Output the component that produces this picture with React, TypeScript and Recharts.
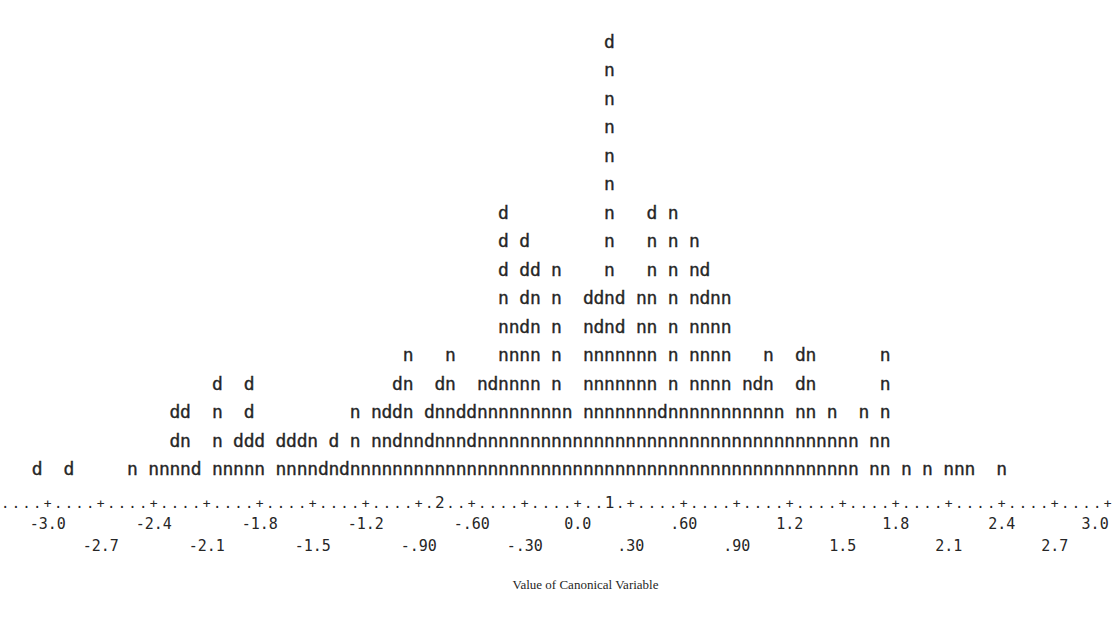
import React from 'react'
import { ScatterChart, Scatter, XAxis, YAxis, Label } from 'recharts'

// one printed row of the histogram = runs of [canonical value of first char, chars]
// d / n are the two groups, one letter per case, bins are 0.06 wide
type Run = [number, string]

const row1: Run[] = [
  [-3.06, 'd'], [-2.88, 'd'], [-2.52, 'n'], [-2.4, 'nnnnd'], [-2.04, 'nnnnn'],
  [-1.68, 'nnnndndnnn' + 'nnnnnnnnnn' + 'nnnnnnnnnn' + 'nnnnnnnnnn' + 'nnnnnnnnnn' + 'nnnnn'],
  [1.68, 'nn'], [1.86, 'n'], [1.98, 'n'], [2.1, 'nnn'], [2.4, 'n'],
]
const row2: Run[] = [
  [-2.28, 'dn'], [-2.04, 'n'], [-1.92, 'ddd'], [-1.68, 'dddn'], [-1.38, 'd'], [-1.26, 'n'],
  [-1.14, 'nndnndnnnd' + 'nnnnnnnnnn' + 'nnnnnnnnnn' + 'nnnnnnnnnn' + 'nnnnnn'],
  [1.68, 'nn'],
]
const row3: Run[] = [
  [-2.28, 'dd'], [-2.04, 'n'], [-1.86, 'd'], [-1.26, 'n'], [-1.14, 'nddn'],
  [-0.84, 'dnnddnnnnnnnnn'], [0.06, 'nnnnnnnd' + 'nnnnnnnnnnn'],
  [1.26, 'nn'], [1.44, 'n'], [1.62, 'n'], [1.74, 'n'],
]
const row4: Run[] = [
  [-2.04, 'd'], [-1.86, 'd'], [-1.02, 'dn'], [-0.78, 'dn'], [-0.54, 'ndnnnn'], [-0.12, 'n'],
  [0.06, 'nnnnnnn'], [0.54, 'n'], [0.66, 'nnnn'], [0.96, 'ndn'], [1.26, 'dn'], [1.74, 'n'],
]
const row5: Run[] = [
  [-0.96, 'n'], [-0.72, 'n'], [-0.42, 'nnnn'], [-0.12, 'n'], [0.06, 'nnnnnnn'], [0.54, 'n'],
  [0.66, 'nnnn'], [1.08, 'n'], [1.26, 'dn'], [1.74, 'n'],
]
const row6: Run[] = [[-0.42, 'nndn'], [-0.12, 'n'], [0.06, 'ndnd'], [0.36, 'nn'], [0.54, 'n'], [0.66, 'nnnn']]
const row7: Run[] = [[-0.42, 'n'], [-0.3, 'dn'], [-0.12, 'n'], [0.06, 'ddnd'], [0.36, 'nn'], [0.54, 'n'], [0.66, 'ndnn']]
const row8: Run[] = [[-0.42, 'd'], [-0.3, 'dd'], [-0.12, 'n'], [0.18, 'n'], [0.42, 'n'], [0.54, 'n'], [0.66, 'nd']]
const row9: Run[] = [[-0.42, 'd'], [-0.3, 'd'], [0.18, 'n'], [0.42, 'n'], [0.54, 'n'], [0.66, 'n']]
const row10: Run[] = [[-0.42, 'd'], [0.18, 'n'], [0.42, 'd'], [0.54, 'n']]
const row11: Run[] = [[0.18, 'n']]
const row12: Run[] = [[0.18, 'n']]
const row13: Run[] = [[0.18, 'n']]
const row14: Run[] = [[0.18, 'n']]
const row15: Run[] = [[0.18, 'n']]
const row16: Run[] = [[0.18, 'd']]

const rows = [row1, row2, row3, row4, row5, row6, row7, row8, row9, row10, row11, row12, row13, row14, row15, row16]

const tickValues = [-3.0, -2.7, -2.4, -2.1, -1.8, -1.5, -1.2, -0.9, -0.6, -0.3, 0, 0.3, 0.6, 0.9, 1.2, 1.5, 1.8, 2.1, 2.4, 2.7, 3.0]
const tickLabels = ['-3.0', '-2.7', '-2.4', '-2.1', '-1.8', '-1.5', '-1.2', '-.90', '-.60', '-.30', '0.0', '.30', '.60', '.90', '1.2', '1.5', '1.8', '2.1', '2.4', '2.7', '3.0']
// group means printed inside the axis line
const groupMeans = [{ value: -0.78, mark: '2' }, { value: 0.18, mark: '1' }]

const BIN = 0.06
const X_MIN = -3.27
const X_MAX = 3.03
const PLOT_W = 1113
const PITCH = PLOT_W / ((X_MAX - X_MIN) / BIN)
const MONO = '"DejaVu Sans Mono", "Liberation Mono", monospace'
const INK = '#262626'

const points = rows.flatMap((runs, r) =>
  runs.flatMap(([at, chars]) =>
    chars.split('').map((ch, i) => ({ x: +(at + i * BIN).toFixed(2), y: r + 1, ch }))
  )
)

function Letter(props: any) {
  const { cx, cy, payload } = props
  return (
    <text
      x={cx}
      y={cy + 5}
      textAnchor="middle"
      fontFamily={MONO}
      fontSize={18}
      fill={INK}
      stroke={INK}
      strokeWidth={0.35}
    >
      {payload.ch}
    </text>
  )
}

function AxisTick(props: any) {
  const { x, y, payload } = props
  const v = payload.value
  const i = tickValues.findIndex((t) => Math.abs(t - v) < 1e-6)
  const last = i === tickValues.length - 1
  const cells = []
  for (let k = 4; k >= 1; k--) {
    const dv = v - k * BIN
    const m = groupMeans.find((g) => Math.abs(g.value - dv) < 1e-6)
    cells.push(
      <text key={k} x={x - k * PITCH} y={y + 1} textAnchor="middle" fontFamily={MONO} fontSize={m ? 16 : 14} fill={INK}>
        {m ? m.mark : '.'}
      </text>
    )
  }
  return (
    <g>
      {cells}
      <text x={x} y={y + 1} textAnchor="middle" fontFamily={MONO} fontSize={13} fill={INK}>+</text>
      <text
        x={last ? x + 1 : x}
        y={y + (i % 2 === 0 ? 22 : 44)}
        textAnchor={last ? 'end' : 'middle'}
        fontFamily={MONO}
        fontSize={15}
        fill={INK}
      >
        {tickLabels[i]}
      </text>
    </g>
  )
}

export default function App() {
  return (
    <div style={{ position: 'absolute', left: 0, top: 0, width: 1117, height: 626, background: '#fff' }}>
      <ScatterChart width={1117} height={626} margin={{ top: 14, right: 4, bottom: 7.5, left: 0 }}>
        <XAxis
          type="number"
          dataKey="x"
          domain={[X_MIN, X_MAX]}
          ticks={tickValues}
          interval={0}
          axisLine={false}
          tickLine={false}
          height={120}
          tick={<AxisTick />}
          allowDataOverflow
        >
          <Label
            value="Value of Canonical Variable"
            position="insideBottom"
            offset={30}
            dx={29}
            style={{ fontFamily: '"Liberation Serif", "DejaVu Serif", serif', fontSize: 13, fill: INK }}
          />
        </XAxis>
        <YAxis type="number" dataKey="y" domain={[0, 17]} hide />
        <Scatter data={points} shape={<Letter />} isAnimationActive={false} />
      </ScatterChart>
    </div>
  )
}
